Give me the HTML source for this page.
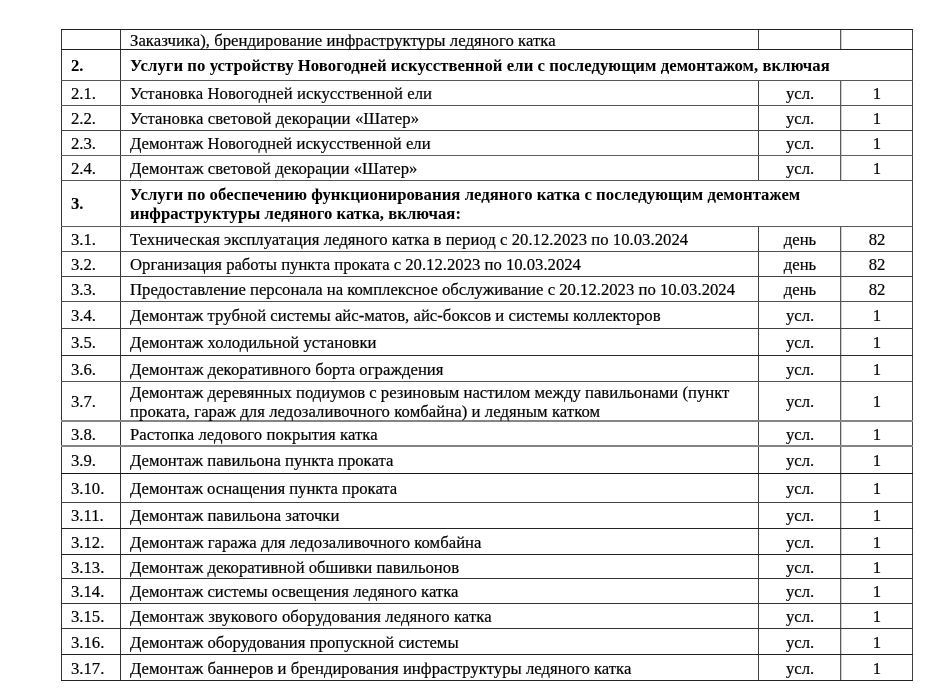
<!DOCTYPE html><html><head><meta charset="utf-8"><style>
html,body{margin:0;padding:0;background:#fff;width:945px;height:698px;overflow:hidden;position:relative}
.l{position:absolute;background:#1c1c1c}
.t{position:absolute;font-family:"Liberation Serif",serif;font-size:16.7px;line-height:20px;height:20px;white-space:nowrap;color:#000;-webkit-text-stroke:0.2px #000}
.b{font-weight:bold;-webkit-text-stroke:0.05px #000}
body>div.t{will-change:transform}
.c{text-align:center}
</style></head><body>
<div class="l" style="left:61px;top:29px;width:1px;height:21px;background:#353535"></div>
<div class="l" style="left:120px;top:29px;width:1px;height:21px;background:#353535"></div>
<div class="l" style="left:758px;top:29px;width:1px;height:21px;background:#424242"></div>
<div class="l" style="left:841px;top:29px;width:1px;height:21px;background:#d2d2d2"></div>
<div class="l" style="left:840px;top:29px;width:1px;height:21px;background:#5a5a5a"></div>
<div class="l" style="left:912px;top:29px;width:1px;height:21px;background:#424242"></div>
<div class="l" style="left:61px;top:49px;width:1px;height:32px;background:#353535"></div>
<div class="l" style="left:120px;top:49px;width:1px;height:32px;background:#353535"></div>
<div class="l" style="left:912px;top:49px;width:1px;height:32px;background:#424242"></div>
<div class="l" style="left:61px;top:80px;width:1px;height:26px;background:#353535"></div>
<div class="l" style="left:120px;top:80px;width:1px;height:26px;background:#353535"></div>
<div class="l" style="left:758px;top:80px;width:1px;height:26px;background:#424242"></div>
<div class="l" style="left:841px;top:80px;width:1px;height:26px;background:#d2d2d2"></div>
<div class="l" style="left:840px;top:80px;width:1px;height:26px;background:#5a5a5a"></div>
<div class="l" style="left:912px;top:80px;width:1px;height:26px;background:#424242"></div>
<div class="l" style="left:61px;top:105px;width:1px;height:26px;background:#353535"></div>
<div class="l" style="left:120px;top:105px;width:1px;height:26px;background:#353535"></div>
<div class="l" style="left:758px;top:105px;width:1px;height:26px;background:#424242"></div>
<div class="l" style="left:841px;top:105px;width:1px;height:26px;background:#d2d2d2"></div>
<div class="l" style="left:840px;top:105px;width:1px;height:26px;background:#5a5a5a"></div>
<div class="l" style="left:912px;top:105px;width:1px;height:26px;background:#424242"></div>
<div class="l" style="left:61px;top:130px;width:1px;height:26px;background:#353535"></div>
<div class="l" style="left:120px;top:130px;width:1px;height:26px;background:#353535"></div>
<div class="l" style="left:758px;top:130px;width:1px;height:26px;background:#424242"></div>
<div class="l" style="left:841px;top:130px;width:1px;height:26px;background:#d2d2d2"></div>
<div class="l" style="left:840px;top:130px;width:1px;height:26px;background:#5a5a5a"></div>
<div class="l" style="left:912px;top:130px;width:1px;height:26px;background:#424242"></div>
<div class="l" style="left:61px;top:155px;width:1px;height:26px;background:#353535"></div>
<div class="l" style="left:120px;top:155px;width:1px;height:26px;background:#353535"></div>
<div class="l" style="left:758px;top:155px;width:1px;height:26px;background:#424242"></div>
<div class="l" style="left:841px;top:155px;width:1px;height:26px;background:#d2d2d2"></div>
<div class="l" style="left:840px;top:155px;width:1px;height:26px;background:#5a5a5a"></div>
<div class="l" style="left:912px;top:155px;width:1px;height:26px;background:#424242"></div>
<div class="l" style="left:61px;top:180px;width:1px;height:47px;background:#353535"></div>
<div class="l" style="left:120px;top:180px;width:1px;height:47px;background:#353535"></div>
<div class="l" style="left:912px;top:180px;width:1px;height:47px;background:#424242"></div>
<div class="l" style="left:61px;top:226px;width:1px;height:26px;background:#353535"></div>
<div class="l" style="left:120px;top:226px;width:1px;height:26px;background:#353535"></div>
<div class="l" style="left:758px;top:226px;width:1px;height:26px;background:#424242"></div>
<div class="l" style="left:841px;top:226px;width:1px;height:26px;background:#d2d2d2"></div>
<div class="l" style="left:840px;top:226px;width:1px;height:26px;background:#5a5a5a"></div>
<div class="l" style="left:912px;top:226px;width:1px;height:26px;background:#424242"></div>
<div class="l" style="left:61px;top:251px;width:1px;height:26px;background:#353535"></div>
<div class="l" style="left:120px;top:251px;width:1px;height:26px;background:#353535"></div>
<div class="l" style="left:758px;top:251px;width:1px;height:26px;background:#424242"></div>
<div class="l" style="left:841px;top:251px;width:1px;height:26px;background:#d2d2d2"></div>
<div class="l" style="left:840px;top:251px;width:1px;height:26px;background:#5a5a5a"></div>
<div class="l" style="left:912px;top:251px;width:1px;height:26px;background:#424242"></div>
<div class="l" style="left:61px;top:276px;width:1px;height:26px;background:#353535"></div>
<div class="l" style="left:120px;top:276px;width:1px;height:26px;background:#353535"></div>
<div class="l" style="left:758px;top:276px;width:1px;height:26px;background:#424242"></div>
<div class="l" style="left:841px;top:276px;width:1px;height:26px;background:#d2d2d2"></div>
<div class="l" style="left:840px;top:276px;width:1px;height:26px;background:#5a5a5a"></div>
<div class="l" style="left:912px;top:276px;width:1px;height:26px;background:#424242"></div>
<div class="l" style="left:61px;top:301px;width:1px;height:28px;background:#353535"></div>
<div class="l" style="left:120px;top:301px;width:1px;height:28px;background:#353535"></div>
<div class="l" style="left:758px;top:301px;width:1px;height:28px;background:#424242"></div>
<div class="l" style="left:841px;top:301px;width:1px;height:28px;background:#d2d2d2"></div>
<div class="l" style="left:840px;top:301px;width:1px;height:28px;background:#5a5a5a"></div>
<div class="l" style="left:912px;top:301px;width:1px;height:28px;background:#424242"></div>
<div class="l" style="left:61px;top:328px;width:1px;height:28px;background:#353535"></div>
<div class="l" style="left:120px;top:328px;width:1px;height:28px;background:#353535"></div>
<div class="l" style="left:758px;top:328px;width:1px;height:28px;background:#424242"></div>
<div class="l" style="left:841px;top:328px;width:1px;height:28px;background:#d2d2d2"></div>
<div class="l" style="left:840px;top:328px;width:1px;height:28px;background:#5a5a5a"></div>
<div class="l" style="left:912px;top:328px;width:1px;height:28px;background:#424242"></div>
<div class="l" style="left:61px;top:355px;width:1px;height:27px;background:#353535"></div>
<div class="l" style="left:120px;top:355px;width:1px;height:27px;background:#353535"></div>
<div class="l" style="left:758px;top:355px;width:1px;height:27px;background:#424242"></div>
<div class="l" style="left:841px;top:355px;width:1px;height:27px;background:#d2d2d2"></div>
<div class="l" style="left:840px;top:355px;width:1px;height:27px;background:#5a5a5a"></div>
<div class="l" style="left:912px;top:355px;width:1px;height:27px;background:#424242"></div>
<div class="l" style="left:61px;top:381px;width:1px;height:41px;background:#353535"></div>
<div class="l" style="left:120px;top:381px;width:1px;height:41px;background:#353535"></div>
<div class="l" style="left:758px;top:381px;width:1px;height:41px;background:#424242"></div>
<div class="l" style="left:841px;top:381px;width:1px;height:41px;background:#d2d2d2"></div>
<div class="l" style="left:840px;top:381px;width:1px;height:41px;background:#5a5a5a"></div>
<div class="l" style="left:912px;top:381px;width:1px;height:41px;background:#424242"></div>
<div class="l" style="left:61px;top:421px;width:1px;height:25px;background:#353535"></div>
<div class="l" style="left:120px;top:421px;width:1px;height:25px;background:#353535"></div>
<div class="l" style="left:758px;top:421px;width:1px;height:25px;background:#424242"></div>
<div class="l" style="left:841px;top:421px;width:1px;height:25px;background:#d2d2d2"></div>
<div class="l" style="left:840px;top:421px;width:1px;height:25px;background:#5a5a5a"></div>
<div class="l" style="left:912px;top:421px;width:1px;height:25px;background:#424242"></div>
<div class="l" style="left:61px;top:445px;width:1px;height:29px;background:#353535"></div>
<div class="l" style="left:120px;top:445px;width:1px;height:29px;background:#353535"></div>
<div class="l" style="left:758px;top:445px;width:1px;height:29px;background:#424242"></div>
<div class="l" style="left:841px;top:445px;width:1px;height:29px;background:#d2d2d2"></div>
<div class="l" style="left:840px;top:445px;width:1px;height:29px;background:#5a5a5a"></div>
<div class="l" style="left:912px;top:445px;width:1px;height:29px;background:#424242"></div>
<div class="l" style="left:61px;top:473px;width:1px;height:30px;background:#353535"></div>
<div class="l" style="left:120px;top:473px;width:1px;height:30px;background:#353535"></div>
<div class="l" style="left:758px;top:473px;width:1px;height:30px;background:#424242"></div>
<div class="l" style="left:841px;top:473px;width:1px;height:30px;background:#d2d2d2"></div>
<div class="l" style="left:840px;top:473px;width:1px;height:30px;background:#5a5a5a"></div>
<div class="l" style="left:912px;top:473px;width:1px;height:30px;background:#424242"></div>
<div class="l" style="left:61px;top:502px;width:1px;height:27px;background:#353535"></div>
<div class="l" style="left:120px;top:502px;width:1px;height:27px;background:#353535"></div>
<div class="l" style="left:758px;top:502px;width:1px;height:27px;background:#424242"></div>
<div class="l" style="left:841px;top:502px;width:1px;height:27px;background:#d2d2d2"></div>
<div class="l" style="left:840px;top:502px;width:1px;height:27px;background:#5a5a5a"></div>
<div class="l" style="left:912px;top:502px;width:1px;height:27px;background:#424242"></div>
<div class="l" style="left:61px;top:528px;width:1px;height:27px;background:#353535"></div>
<div class="l" style="left:120px;top:528px;width:1px;height:27px;background:#353535"></div>
<div class="l" style="left:758px;top:528px;width:1px;height:27px;background:#424242"></div>
<div class="l" style="left:841px;top:528px;width:1px;height:27px;background:#d2d2d2"></div>
<div class="l" style="left:840px;top:528px;width:1px;height:27px;background:#5a5a5a"></div>
<div class="l" style="left:912px;top:528px;width:1px;height:27px;background:#424242"></div>
<div class="l" style="left:61px;top:554px;width:1px;height:25px;background:#353535"></div>
<div class="l" style="left:120px;top:554px;width:1px;height:25px;background:#353535"></div>
<div class="l" style="left:758px;top:554px;width:1px;height:25px;background:#424242"></div>
<div class="l" style="left:841px;top:554px;width:1px;height:25px;background:#d2d2d2"></div>
<div class="l" style="left:840px;top:554px;width:1px;height:25px;background:#5a5a5a"></div>
<div class="l" style="left:912px;top:554px;width:1px;height:25px;background:#424242"></div>
<div class="l" style="left:61px;top:578px;width:1px;height:26px;background:#353535"></div>
<div class="l" style="left:120px;top:578px;width:1px;height:26px;background:#353535"></div>
<div class="l" style="left:758px;top:578px;width:1px;height:26px;background:#424242"></div>
<div class="l" style="left:841px;top:578px;width:1px;height:26px;background:#d2d2d2"></div>
<div class="l" style="left:840px;top:578px;width:1px;height:26px;background:#5a5a5a"></div>
<div class="l" style="left:912px;top:578px;width:1px;height:26px;background:#424242"></div>
<div class="l" style="left:61px;top:603px;width:1px;height:26px;background:#353535"></div>
<div class="l" style="left:120px;top:603px;width:1px;height:26px;background:#353535"></div>
<div class="l" style="left:758px;top:603px;width:1px;height:26px;background:#424242"></div>
<div class="l" style="left:841px;top:603px;width:1px;height:26px;background:#d2d2d2"></div>
<div class="l" style="left:840px;top:603px;width:1px;height:26px;background:#5a5a5a"></div>
<div class="l" style="left:912px;top:603px;width:1px;height:26px;background:#424242"></div>
<div class="l" style="left:61px;top:628px;width:1px;height:27px;background:#353535"></div>
<div class="l" style="left:120px;top:628px;width:1px;height:27px;background:#353535"></div>
<div class="l" style="left:758px;top:628px;width:1px;height:27px;background:#424242"></div>
<div class="l" style="left:841px;top:628px;width:1px;height:27px;background:#d2d2d2"></div>
<div class="l" style="left:840px;top:628px;width:1px;height:27px;background:#5a5a5a"></div>
<div class="l" style="left:912px;top:628px;width:1px;height:27px;background:#424242"></div>
<div class="l" style="left:61px;top:654px;width:1px;height:27px;background:#353535"></div>
<div class="l" style="left:120px;top:654px;width:1px;height:27px;background:#353535"></div>
<div class="l" style="left:758px;top:654px;width:1px;height:27px;background:#424242"></div>
<div class="l" style="left:841px;top:654px;width:1px;height:27px;background:#d2d2d2"></div>
<div class="l" style="left:840px;top:654px;width:1px;height:27px;background:#5a5a5a"></div>
<div class="l" style="left:912px;top:654px;width:1px;height:27px;background:#424242"></div>
<div class="l" style="left:61px;top:29px;width:852px;height:1px;background:#222"></div>
<div class="l" style="left:61px;top:49px;width:852px;height:1px;background:#222"></div>
<div class="l" style="left:61px;top:80px;width:852px;height:1px;background:#555"></div>
<div class="l" style="left:61px;top:105px;width:852px;height:1px;background:#555"></div>
<div class="l" style="left:61px;top:130px;width:852px;height:1px;background:#444"></div>
<div class="l" style="left:61px;top:155px;width:852px;height:1px;background:#5e5e5e"></div>
<div class="l" style="left:61px;top:180px;width:852px;height:1px;background:#555"></div>
<div class="l" style="left:61px;top:226px;width:852px;height:1px;background:#5a5a5a"></div>
<div class="l" style="left:61px;top:251px;width:852px;height:1px;background:#505050"></div>
<div class="l" style="left:61px;top:276px;width:852px;height:1px;background:#444"></div>
<div class="l" style="left:61px;top:301px;width:852px;height:1px;background:#505050"></div>
<div class="l" style="left:61px;top:328px;width:852px;height:1px;background:#404040"></div>
<div class="l" style="left:61px;top:355px;width:852px;height:1px;background:#2a2a2a"></div>
<div class="l" style="left:61px;top:381px;width:852px;height:1px;background:#555"></div>
<div class="l" style="left:61px;top:420px;width:852px;height:2px;background:#858585"></div>
<div class="l" style="left:61px;top:445px;width:852px;height:2px;background:#858585"></div>
<div class="l" style="left:61px;top:473px;width:852px;height:1px;background:#151515"></div>
<div class="l" style="left:61px;top:502px;width:852px;height:1px;background:#444"></div>
<div class="l" style="left:61px;top:528px;width:852px;height:1px;background:#222"></div>
<div class="l" style="left:61px;top:554px;width:852px;height:1px;background:#222"></div>
<div class="l" style="left:61px;top:578px;width:852px;height:1px;background:#333"></div>
<div class="l" style="left:61px;top:603px;width:852px;height:1px;background:#333"></div>
<div class="l" style="left:61px;top:628px;width:852px;height:1px;background:#333"></div>
<div class="l" style="left:61px;top:654px;width:852px;height:1px;background:#222"></div>
<div class="l" style="left:61px;top:680px;width:852px;height:1px;background:#222"></div>
<div class="t" style="left:130px;top:31.0px;letter-spacing:0.0352px">Заказчика), брендирование инфраструктуры ледяного катка</div>
<div class="t b" style="left:71px;top:56.0px">2.</div>
<div class="t b" style="left:130px;top:56.0px;letter-spacing:0.0610px">Услуги по устройству Новогодней искусственной ели с последующим демонтажом, включая</div>
<div class="t" style="left:71px;top:84.0px">2.1.</div>
<div class="t" style="left:130px;top:84.0px;letter-spacing:0.0757px">Установка Новогодней искусственной ели</div>
<div class="t c" style="left:759px;width:82px;top:84.0px">усл.</div>
<div class="t c" style="left:840.5px;width:72px;top:84.0px">1</div>
<div class="t" style="left:71px;top:109.0px">2.2.</div>
<div class="t" style="left:130px;top:109.0px;letter-spacing:0.0943px">Установка световой декорации «Шатер»</div>
<div class="t c" style="left:759px;width:82px;top:109.0px">усл.</div>
<div class="t c" style="left:840.5px;width:72px;top:109.0px">1</div>
<div class="t" style="left:71px;top:134.0px">2.3.</div>
<div class="t" style="left:130px;top:134.0px;letter-spacing:0.0167px">Демонтаж Новогодней искусственной ели</div>
<div class="t c" style="left:759px;width:82px;top:134.0px">усл.</div>
<div class="t c" style="left:840.5px;width:72px;top:134.0px">1</div>
<div class="t" style="left:71px;top:159.0px">2.4.</div>
<div class="t" style="left:130px;top:159.0px;letter-spacing:0.0294px">Демонтаж световой декорации «Шатер»</div>
<div class="t c" style="left:759px;width:82px;top:159.0px">усл.</div>
<div class="t c" style="left:840.5px;width:72px;top:159.0px">1</div>
<div class="t b" style="left:71px;top:194.0px">3.</div>
<div class="t b" style="left:130px;top:185.0px;letter-spacing:0.0519px">Услуги по обеспечению функционирования ледяного катка с последующим демонтажем</div>
<div class="t b" style="left:130px;top:204.0px;letter-spacing:0.0342px">инфраструктуры ледяного катка, включая:</div>
<div class="t" style="left:71px;top:230.0px">3.1.</div>
<div class="t" style="left:130px;top:230.0px;letter-spacing:0.0297px">Техническая эксплуатация ледяного катка в период с 20.12.2023 по 10.03.2024</div>
<div class="t c" style="left:759px;width:82px;top:230.0px">день</div>
<div class="t c" style="left:840.5px;width:72px;top:230.0px">82</div>
<div class="t" style="left:71px;top:255.0px">3.2.</div>
<div class="t" style="left:130px;top:255.0px;letter-spacing:-0.0068px">Организация работы пункта проката с 20.12.2023 по 10.03.2024</div>
<div class="t c" style="left:759px;width:82px;top:255.0px">день</div>
<div class="t c" style="left:840.5px;width:72px;top:255.0px">82</div>
<div class="t" style="left:71px;top:280.0px">3.3.</div>
<div class="t" style="left:130px;top:280.0px;letter-spacing:0.0000px">Предоставление персонала на комплексное обслуживание с 20.12.2023 по 10.03.2024</div>
<div class="t c" style="left:759px;width:82px;top:280.0px">день</div>
<div class="t c" style="left:840.5px;width:72px;top:280.0px">82</div>
<div class="t" style="left:71px;top:306.0px">3.4.</div>
<div class="t" style="left:130px;top:306.0px;letter-spacing:0.0194px">Демонтаж трубной системы айс-матов, айс-боксов и системы коллекторов</div>
<div class="t c" style="left:759px;width:82px;top:306.0px">усл.</div>
<div class="t c" style="left:840.5px;width:72px;top:306.0px">1</div>
<div class="t" style="left:71px;top:333.0px">3.5.</div>
<div class="t" style="left:130px;top:333.0px;letter-spacing:0.0138px">Демонтаж холодильной установки</div>
<div class="t c" style="left:759px;width:82px;top:333.0px">усл.</div>
<div class="t c" style="left:840.5px;width:72px;top:333.0px">1</div>
<div class="t" style="left:71px;top:360.0px">3.6.</div>
<div class="t" style="left:130px;top:360.0px;letter-spacing:0.0263px">Демонтаж декоративного борта ограждения</div>
<div class="t c" style="left:759px;width:82px;top:360.0px">усл.</div>
<div class="t c" style="left:840.5px;width:72px;top:360.0px">1</div>
<div class="t" style="left:71px;top:392.0px">3.7.</div>
<div class="t" style="left:130px;top:383.0px;letter-spacing:0.0000px">Демонтаж деревянных подиумов с резиновым настилом между павильонами (пункт</div>
<div class="t" style="left:130px;top:402.0px;letter-spacing:0.0617px">проката, гараж для ледозаливочного комбайна) и ледяным катком</div>
<div class="t c" style="left:759px;width:82px;top:392.0px">усл.</div>
<div class="t c" style="left:840.5px;width:72px;top:392.0px">1</div>
<div class="t" style="left:71px;top:425.0px">3.8.</div>
<div class="t" style="left:130px;top:425.0px;letter-spacing:0.0645px">Растопка ледового покрытия катка</div>
<div class="t c" style="left:759px;width:82px;top:425.0px">усл.</div>
<div class="t c" style="left:840.5px;width:72px;top:425.0px">1</div>
<div class="t" style="left:71px;top:451.0px">3.9.</div>
<div class="t" style="left:130px;top:451.0px;letter-spacing:-0.0187px">Демонтаж павильона пункта проката</div>
<div class="t c" style="left:759px;width:82px;top:451.0px">усл.</div>
<div class="t c" style="left:840.5px;width:72px;top:451.0px">1</div>
<div class="t" style="left:71px;top:479.0px">3.10.</div>
<div class="t" style="left:130px;top:479.0px;letter-spacing:-0.0375px">Демонтаж оснащения пункта проката</div>
<div class="t c" style="left:759px;width:82px;top:479.0px">усл.</div>
<div class="t c" style="left:840.5px;width:72px;top:479.0px">1</div>
<div class="t" style="left:71px;top:506.0px">3.11.</div>
<div class="t" style="left:130px;top:506.0px;letter-spacing:0.0000px">Демонтаж павильона заточки</div>
<div class="t c" style="left:759px;width:82px;top:506.0px">усл.</div>
<div class="t c" style="left:840.5px;width:72px;top:506.0px">1</div>
<div class="t" style="left:71px;top:533.0px">3.12.</div>
<div class="t" style="left:130px;top:533.0px;letter-spacing:0.0279px">Демонтаж гаража для ледозаливочного комбайна</div>
<div class="t c" style="left:759px;width:82px;top:533.0px">усл.</div>
<div class="t c" style="left:840.5px;width:72px;top:533.0px">1</div>
<div class="t" style="left:71px;top:558.0px">3.13.</div>
<div class="t" style="left:130px;top:558.0px;letter-spacing:0.0000px">Демонтаж декоративной обшивки павильонов</div>
<div class="t c" style="left:759px;width:82px;top:558.0px">усл.</div>
<div class="t c" style="left:840.5px;width:72px;top:558.0px">1</div>
<div class="t" style="left:71px;top:582.0px">3.14.</div>
<div class="t" style="left:130px;top:582.0px;letter-spacing:0.0000px">Демонтаж системы освещения ледяного катка</div>
<div class="t c" style="left:759px;width:82px;top:582.0px">усл.</div>
<div class="t c" style="left:840.5px;width:72px;top:582.0px">1</div>
<div class="t" style="left:71px;top:607.0px">3.15.</div>
<div class="t" style="left:130px;top:607.0px;letter-spacing:0.0844px">Демонтаж звукового оборудования ледяного катка</div>
<div class="t c" style="left:759px;width:82px;top:607.0px">усл.</div>
<div class="t c" style="left:840.5px;width:72px;top:607.0px">1</div>
<div class="t" style="left:71px;top:633.0px">3.16.</div>
<div class="t" style="left:130px;top:633.0px;letter-spacing:0.0000px">Демонтаж оборудования пропускной системы</div>
<div class="t c" style="left:759px;width:82px;top:633.0px">усл.</div>
<div class="t c" style="left:840.5px;width:72px;top:633.0px">1</div>
<div class="t" style="left:71px;top:659.0px">3.17.</div>
<div class="t" style="left:130px;top:659.0px;letter-spacing:0.0129px">Демонтаж баннеров и брендирования инфраструктуры ледяного катка</div>
<div class="t c" style="left:759px;width:82px;top:659.0px">усл.</div>
<div class="t c" style="left:840.5px;width:72px;top:659.0px">1</div>
</body></html>
